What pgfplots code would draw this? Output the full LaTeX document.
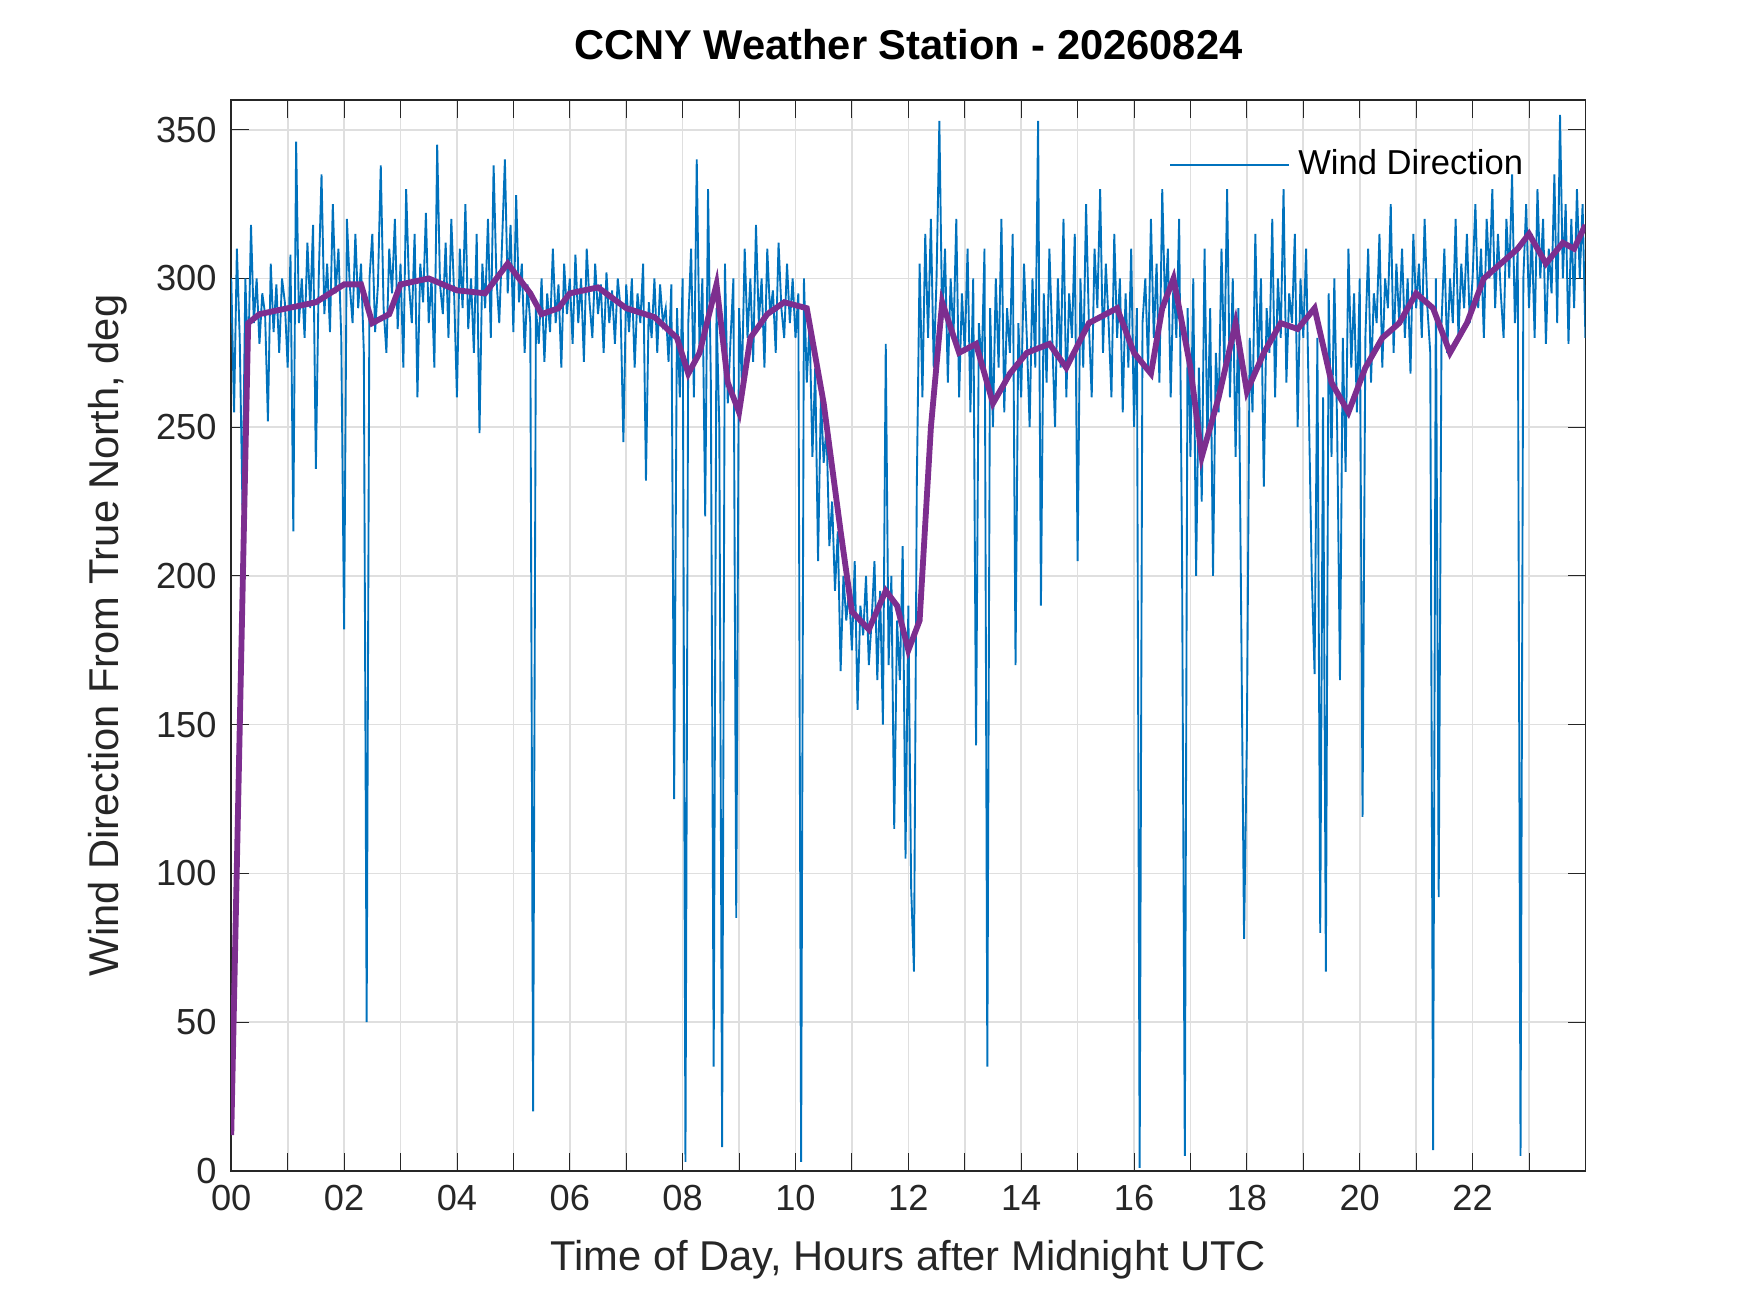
\documentclass[border=0pt]{standalone}
\usepackage{pgfplots}
\pgfplotsset{compat=1.18}
\usepackage{fontspec}
\setmainfont{Liberation Sans}
\definecolor{mblue}{rgb}{0,0.447,0.741}
\definecolor{mpurp}{rgb}{0.49,0.18,0.56}
\definecolor{axc}{rgb}{0.15,0.15,0.15}
\pgfplotstableread{
x y
0.00 300
0.05 255
0.10 310
0.15 280
0.20 222
0.25 300
0.30 270
0.35 318
0.40 285
0.45 300
0.50 278
0.55 295
0.60 288
0.65 252
0.70 305
0.75 282
0.80 298
0.85 275
0.90 300
0.95 292
1.00 270
1.05 308
1.10 215
1.15 346
1.20 285
1.25 300
1.30 280
1.35 312
1.40 290
1.45 318
1.50 236
1.55 300
1.60 335
1.65 288
1.70 305
1.75 282
1.80 325
1.85 295
1.90 310
1.95 280
2.00 182
2.05 320
2.10 298
2.15 285
2.20 315
2.25 290
2.30 305
2.35 275
2.40 50
2.45 300
2.50 315
2.55 282
2.60 298
2.65 338
2.70 290
2.75 275
2.80 310
2.85 295
2.90 320
2.95 283
3.00 305
3.05 270
3.10 330
3.15 298
3.20 285
3.25 315
3.30 260
3.35 305
3.40 292
3.45 322
3.50 285
3.55 300
3.60 270
3.65 345
3.70 298
3.75 288
3.80 312
3.85 280
3.90 320
3.95 295
4.00 260
4.05 310
4.10 290
4.15 325
4.20 283
4.25 300
4.30 275
4.35 315
4.40 248
4.45 305
4.50 290
4.55 320
4.60 280
4.65 338
4.70 300
4.75 285
4.80 312
4.85 340
4.90 295
4.95 318
5.00 282
5.05 328
5.10 292
5.15 305
5.20 275
5.25 298
5.30 285
5.35 20
5.40 290
5.45 278
5.50 300
5.55 272
5.60 295
5.65 282
5.70 310
5.75 285
5.80 298
5.85 270
5.90 305
5.95 288
6.00 300
6.05 278
6.10 308
6.15 285
6.20 300
6.25 272
6.30 310
6.35 292
6.40 280
6.45 305
6.50 288
6.55 298
6.60 275
6.65 302
6.70 285
6.75 296
6.80 278
6.85 300
6.90 290
6.95 245
7.00 298
7.05 282
7.10 300
7.15 270
7.20 295
7.25 285
7.30 305
7.35 232
7.40 292
7.45 280
7.50 300
7.55 275
7.60 298
7.65 285
7.70 290
7.75 272
7.80 298
7.85 125
7.90 290
7.95 260
8.00 300
8.05 3
8.10 285
8.15 310
8.20 260
8.25 340
8.30 275
8.35 300
8.40 220
8.45 330
8.50 265
8.55 35
8.60 290
8.65 250
8.70 8
8.75 305
8.80 258
8.85 280
8.90 300
8.95 85
9.00 290
9.05 265
9.10 310
9.15 280
9.20 300
9.25 272
9.30 318
9.35 285
9.40 300
9.45 270
9.50 310
9.55 288
9.60 296
9.65 275
9.70 312
9.75 290
9.80 280
9.85 305
9.90 285
9.95 300
10.00 280
10.05 295
10.10 3
10.15 300
10.20 265
10.25 285
10.30 240
10.35 270
10.40 205
10.45 260
10.50 238
10.55 250
10.60 210
10.65 225
10.70 195
10.75 215
10.80 168
10.85 200
10.90 185
10.95 195
11.00 175
11.05 205
11.10 155
11.15 190
11.20 180
11.25 200
11.30 170
11.35 185
11.40 205
11.45 165
11.50 195
11.55 150
11.60 278
11.65 170
11.70 200
11.75 115
11.80 185
11.85 165
11.90 210
11.95 105
12.00 190
12.05 95
12.10 67
12.15 230
12.20 305
12.25 260
12.30 315
12.35 280
12.40 320
12.45 270
12.50 300
12.55 353
12.60 285
12.65 310
12.70 265
12.75 300
12.80 280
12.85 320
12.90 260
12.95 295
13.00 275
13.05 310
13.10 255
13.15 300
13.20 143
13.25 285
13.30 270
13.35 310
13.40 35
13.45 290
13.50 250
13.55 300
13.60 270
13.65 320
13.70 255
13.75 290
13.80 275
13.85 315
13.90 170
13.95 285
14.00 260
14.05 305
14.10 280
14.15 250
14.20 300
14.25 270
14.30 353
14.35 190
14.40 295
14.45 265
14.50 310
14.55 280
14.60 250
14.65 300
14.70 270
14.75 320
14.80 260
14.85 295
14.90 280
14.95 315
15.00 205
15.05 300
15.10 270
15.15 325
15.20 285
15.25 260
15.30 310
15.35 290
15.40 330
15.45 275
15.50 305
15.55 285
15.60 260
15.65 315
15.70 280
15.75 300
15.80 255
15.85 295
15.90 270
15.95 310
16.00 250
16.05 290
16.10 1
16.15 285
16.20 300
16.25 270
16.30 320
16.35 280
16.40 305
16.45 265
16.50 330
16.55 290
16.60 310
16.65 260
16.70 300
16.75 280
16.80 320
16.85 210
16.90 5
16.95 290
17.00 240
17.05 300
17.10 200
17.15 270
17.20 225
17.25 310
17.30 245
17.35 290
17.40 200
17.45 275
17.50 255
17.55 310
17.60 270
17.65 330
17.70 260
17.75 300
17.80 240
17.85 290
17.90 185
17.95 78
18.00 146
18.05 280
18.10 255
18.15 315
18.20 270
18.25 300
18.30 230
18.35 290
18.40 275
18.45 320
18.50 260
18.55 300
18.60 280
18.65 330
18.70 265
18.75 295
18.80 285
18.85 315
18.90 250
18.95 300
19.00 280
19.05 310
19.10 255
19.15 200
19.20 167
19.25 280
19.30 80
19.35 260
19.40 67
19.45 295
19.50 240
19.55 300
19.60 250
19.65 165
19.70 280
19.75 235
19.80 310
19.85 270
19.90 295
19.95 255
20.00 300
20.05 119
20.10 280
20.15 310
20.20 265
20.25 295
20.30 285
20.35 315
20.40 270
20.45 300
20.50 290
20.55 325
20.60 275
20.65 305
20.70 285
20.75 310
20.80 280
20.85 300
20.90 268
20.95 315
21.00 290
21.05 305
21.10 280
21.15 320
21.20 290
21.25 275
21.30 7
21.35 300
21.40 92
21.45 285
21.50 310
21.55 275
21.60 300
21.65 285
21.70 320
21.75 280
21.80 305
21.85 290
21.90 315
21.95 285
22.00 300
22.05 325
22.10 290
22.15 310
22.20 280
22.25 320
22.30 300
22.35 330
22.40 290
22.45 315
22.50 295
22.55 280
22.60 320
22.65 300
22.70 335
22.75 285
22.80 310
22.85 5
22.90 300
22.95 325
23.00 290
23.05 315
23.10 280
23.15 330
23.20 300
23.25 320
23.30 278
23.35 310
23.40 295
23.45 335
23.50 285
23.55 355
23.60 300
23.65 325
23.70 278
23.75 320
23.80 290
23.85 330
23.90 300
23.95 325
24.00 280
}\blue
\pgfplotstableread{
x y
0.00 12
0.30 285
0.50 288
1.00 290
1.50 292
2.00 298
2.30 298
2.50 285
2.80 288
3.00 298
3.50 300
4.00 296
4.50 295
4.90 305
5.30 295
5.50 288
5.80 290
6.00 295
6.50 297
7.00 290
7.50 287
7.90 280
8.10 268
8.30 275
8.60 298
8.80 265
9.00 255
9.20 280
9.50 288
9.80 292
10.20 290
10.50 258
10.80 215
11.00 188
11.30 182
11.60 195
11.80 190
12.00 175
12.20 185
12.40 250
12.60 292
12.90 275
13.20 278
13.50 258
13.80 268
14.10 275
14.50 278
14.80 270
15.20 285
15.50 288
15.70 290
16.00 275
16.30 268
16.50 290
16.70 300
17.00 270
17.20 240
17.50 260
17.80 285
18.00 262
18.30 275
18.60 285
18.90 283
19.20 290
19.50 265
19.80 255
20.10 270
20.40 280
20.70 285
21.00 295
21.30 290
21.60 275
21.90 285
22.20 300
22.50 305
22.80 310
23.00 315
23.30 305
23.60 312
23.80 310
24.00 318
}\purp
\begin{document}
\begin{tikzpicture}
\path (0,0) rectangle (420pt,315pt);
\begin{axis}[
 at={(55.5pt,34pt)}, anchor=south west,
 width=325pt, height=257pt, scale only axis,
 xmin=0, xmax=24, ymin=0, ymax=360,
 xtick={0,1,...,23},
 xticklabels={00,,02,,04,,06,,08,,10,,12,,14,,16,,18,,20,,22,},
 ytick={0,50,...,350},
 grid=major, grid style={gray!25},
 axis line style={axc}, tick style={axc},
 tick align=inside,
 ticklabel style={font=\fontsize{8.7}{10}\selectfont, text=axc},
 /pgf/number format/assume math mode=true,
 xlabel={Time of Day, Hours after Midnight UTC},
 ylabel={Wind Direction From True North, deg},
 label style={font=\fontsize{10}{12}\selectfont, text=axc},
 title={\bfseries CCNY Weather Station - 20260824},
 title style={font=\fontsize{10}{12}\selectfont},
 legend style={draw=none, fill=none, at={(0.97,0.97)}, anchor=north east, font=\fontsize{8.3}{9}\selectfont},
 legend image code/.code={\draw[#1] (0cm,0cm) -- (1cm,0cm);},
]
\addplot[mblue, line width=0.45pt] table[x=x,y=y]{\blue};
\addlegendentry{Wind Direction}
\addplot[mpurp, line width=1.4pt, forget plot] table[x=x,y=y]{\purp};
\end{axis}
\end{tikzpicture}
\end{document}
